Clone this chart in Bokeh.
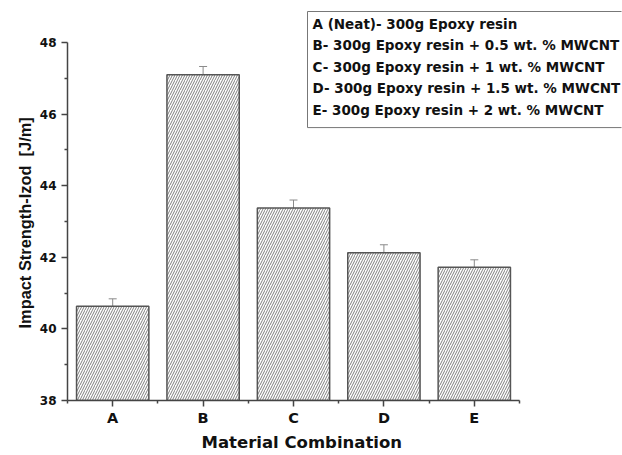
from bokeh.plotting import figure
from bokeh.models import FixedTicker, Whisker, TeeHead, Label, ColumnDataSource, Range1d, Title
from bokeh.embed import file_html
from bokeh.resources import INLINE

categories = ["A", "B", "C", "D", "E"]
impact = [40.63, 47.10, 43.38, 42.13, 41.72]
errors = [0.21, 0.23, 0.22, 0.22, 0.21]
legend_lines = [
    "A (Neat)- 300g Epoxy resin",
    "B- 300g Epoxy resin + 0.5 wt. % MWCNT",
    "C- 300g Epoxy resin + 1 wt. % MWCNT",
    "D- 300g Epoxy resin + 1.5 wt. % MWCNT",
    "E- 300g Epoxy resin + 2 wt. % MWCNT",
]
y_ticks = [38, 40, 42, 44, 46, 48]
x_title = "Material Combination"
y_title = "Impact Strength-Izod\u00a0 [J/m]"

xs = list(range(1, len(categories) + 1))
src = ColumnDataSource(dict(
    x=xs, top=impact,
    upper=[v + e for v, e in zip(impact, errors)],
    lower=[v - e for v, e in zip(impact, errors)],
))

WIDE = "DejaVu Sans"
NARROW = "Liberation Sans"

# pixel layout of the frame: left 67, right 621, top 5, bottom 400
# axis spans 0.5..5.5 (67..519 px) and 38..48 (400..42 px)
PX_PER_X = (519 - 67) / 5.0
PX_PER_Y = (400 - 42) / 10.0
x_end = 0.5 + (621 - 67) / PX_PER_X
y_end = 38 + (400 - 5) / PX_PER_Y

p = figure(width=622, height=455, output_backend="svg", toolbar_location=None,
           x_range=Range1d(0.5, x_end), y_range=Range1d(38, y_end),
           min_border_left=67, min_border_right=1, min_border_top=5, min_border_bottom=55)
p.outline_line_color = None
p.xgrid.visible = False
p.ygrid.visible = False
p.background_fill_color = "white"
p.border_fill_color = "white"

p.vbar(x="x", top="top", bottom=38, width=0.8, source=src,
       fill_color="white", line_color="#555555", line_width=1.5,
       hatch_pattern="/", hatch_color="#808080", hatch_scale=5, hatch_weight=1)

w = Whisker(source=src, base="x", upper="upper", lower="lower",
            line_color="#8a8a8a", line_width=1,
            upper_head=TeeHead(size=8, line_color="#8a8a8a", line_width=1),
            lower_head=TeeHead(size=8, line_color="#8a8a8a", line_width=1))
p.add_layout(w)

# axes
p.xaxis.ticker = FixedTicker(ticks=xs, minor_ticks=[i + 0.5 for i in range(0, len(categories) + 1)])
p.xaxis.major_label_overrides = {x: c for x, c in zip(xs, categories)}
p.yaxis.ticker = FixedTicker(ticks=y_ticks, minor_ticks=[t + 1 for t in y_ticks[:-1]])
p.xaxis.bounds = (0.5, 5.5)
p.yaxis.bounds = (38, 48)
for ax in (p.xaxis[0], p.yaxis[0]):
    ax.axis_line_color = "#444444"
    ax.axis_line_width = 1.5
    ax.major_tick_line_color = "#444444"
    ax.major_tick_line_width = 1.5
    ax.minor_tick_line_color = "#444444"
    ax.minor_tick_line_width = 1.5
    ax.major_tick_out = 6
    ax.major_tick_in = 0
    ax.minor_tick_out = 3
    ax.minor_tick_in = 0
    ax.major_label_text_font = WIDE
    ax.major_label_text_font_style = "bold"
    ax.major_label_text_color = "#111111"

p.xaxis.major_label_text_font_size = "14.5px"
p.yaxis.major_label_text_font_size = "12px"
p.xaxis.major_label_standoff = 3
p.yaxis.major_label_standoff = 5

p.add_layout(Title(text=x_title, align="left", offset=201 - 67, text_font=WIDE,
                   text_font_style="bold", text_font_size="16.5px", text_color="#111111",
                   standoff=4), "below")
p.add_layout(Title(text=y_title, align="left", offset=400 - 328, text_font=NARROW,
                   text_font_style="bold", text_font_size="16.4px", text_color="#111111",
                   standoff=6), "left")

def px_to_x(px):
    return 0.5 + (px - 67) / PX_PER_X

def py_to_y(py):
    return 38 + (400 - py) / PX_PER_Y

leg = Label(x=px_to_x(307), y=py_to_y(11), text="\n".join(legend_lines),
            anchor="top_left", text_font=WIDE, text_font_style="bold",
            text_font_size="13.5px", text_color="#111111", text_line_height=1.345,
            border_line_color="#777777", border_line_width=1,
            background_fill_color="white", padding=(5, 4, 4, 10))
p.add_layout(leg)

open("out.html", "w").write(file_html(p, INLINE))
